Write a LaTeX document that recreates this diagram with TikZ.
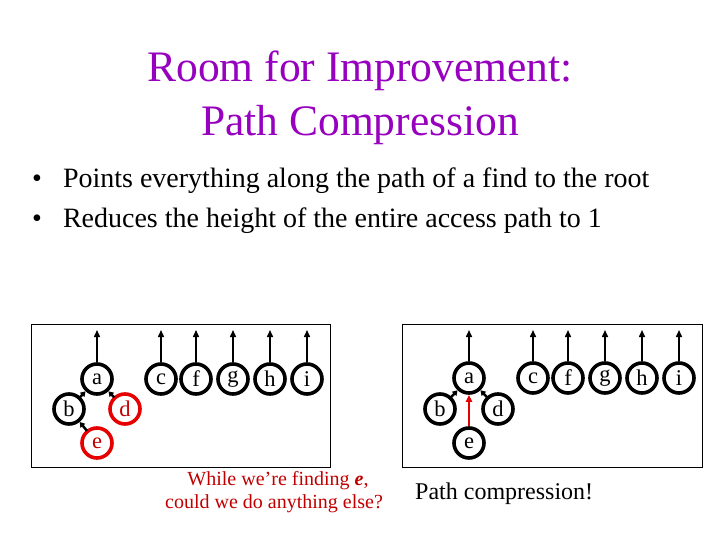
\documentclass[tikz,border=0pt]{standalone}
\usepackage{fontspec}
\setmainfont{Liberation Serif}
\usetikzlibrary{arrows.meta}
\definecolor{titlepurple}{RGB}{150,0,190}
\definecolor{darkred}{RGB}{192,0,0}
\definecolor{ringred}{RGB}{230,0,0}
\tikzset{
  elem/.style={circle,draw=black,line width=3.6pt,minimum size=30pt,inner sep=0pt,font=\fontsize{22.5}{22.5}\selectfont},
  redelem/.style={elem,draw=ringred,text=darkred},
  uparrow/.style={line width=1.5pt,-{Triangle[length=7pt,width=6pt]}},
  edge/.style={line width=2.5pt,-{Triangle[length=5pt,width=6pt]},shorten <=-1pt},
  rededge/.style={line width=2pt,draw=ringred,-{Triangle[length=7pt,width=6pt]}},
  panel/.style={draw=black,line width=1pt},
}
\begin{document}
\begin{tikzpicture}[x=1pt,y=-1pt]
\useasboundingbox (0,0) rectangle (720,540);
% title
\node[anchor=base,text=titlepurple,font=\fontsize{43.5}{43.5}\selectfont] (t1) at (360,82) {Room for Improvement:};
\node[anchor=base,text=titlepurple,font=\fontsize{43.5}{43.5}\selectfont] (t2) at (360,136) {Path Compression};
% bullets
\node[anchor=base west,font=\fontsize{28}{28}\selectfont,inner sep=0pt] (b1) at (32,188) {\textbullet\hspace{21pt}Points everything along the path of a find to the root};
\node[anchor=base west,font=\fontsize{28}{28}\selectfont,inner sep=0pt] (b2) at (32,227) {\textbullet\hspace{21pt}Reduces the height of the entire access path to 1};
% panels
\draw[panel] (31,324) rectangle (330,467);
\draw[panel] (402,324) rectangle (702,467);
% left forest
\node[elem] (La) at (97,379) {a};
\node[elem] (Lc) at (161,379) {c};
\node[elem] (Lf) at (196,379) {f};
\node[elem] (Lg) at (233,379) {g};
\node[elem] (Lh) at (270,379) {h};
\node[elem] (Li) at (307,379) {i};
\node[elem] (Lb) at (69,409) {b};
\node[redelem] (Ld) at (125,409) {d};
\node[redelem] (Le) at (97,443) {e};
\foreach \n in {La,Lc,Lf,Lg,Lh,Li} {
  \coordinate (\n top) at ([yshift=49pt]\n.center);
  \draw[uparrow] (\n.north) -- (\n top);
}
\draw[edge] (Lb) -- (La);
\draw[edge] (Ld) -- (La);
\draw[edge] (Le) -- (Lb);
% right forest
\node[elem] (Ra) at (469,378) {a};
\node[elem] (Rc) at (533,378) {c};
\node[elem] (Rf) at (568,378) {f};
\node[elem] (Rg) at (605,378) {g};
\node[elem] (Rh) at (642,378) {h};
\node[elem] (Ri) at (679,378) {i};
\node[elem] (Rb) at (440,409) {b};
\node[elem] (Rd) at (498,409) {d};
\node[elem] (Re) at (469,443) {e};
\foreach \n in {Ra,Rc,Rf,Rg,Rh,Ri} {
  \coordinate (\n top) at ([yshift=48pt]\n.center);
  \draw[uparrow] (\n.north) -- (\n top);
}
\draw[edge] (Rb) -- (Ra);
\draw[edge] (Rd) -- (Ra);
\draw[rededge] (Re) -- (Ra);
% captions
\node[anchor=base,text=darkred,font=\fontsize{20}{20}\selectfont] (q1) at (278,485) {While we’re finding \textbf{\textit{e}},};
\node[anchor=base,text=darkred,font=\fontsize{20}{20}\selectfont] (q2) at (274,508) {could we do anything else?};
\node[anchor=base west,font=\fontsize{24}{24}\selectfont,inner sep=0pt] (pc) at (415,499) {Path compression!};
\end{tikzpicture}
\end{document}
